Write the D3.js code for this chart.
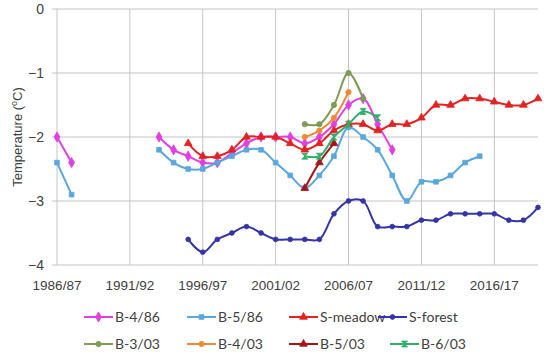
<!DOCTYPE html>
<html>
<head>
<meta charset="utf-8">
<script src="https://cdn.jsdelivr.net/npm/d3@7"></script>
<style>
  body { margin: 0; background: #fff; }
  svg text { font-family: "Liberation Sans", Arial, sans-serif; fill: #404040; }
  svg .legend text { font-family: Lato, "Liberation Sans", sans-serif; }
</style>
</head>
<body>
<svg id="chart" width="550" height="358"></svg>
<script>
// categories (winter seasons)
const years = ['1986/87','1987/88','1988/89','1989/90','1990/91','1991/92','1992/93','1993/94',
  '1994/95','1995/96','1996/97','1997/98','1998/99','1999/00','2000/01','2001/02','2002/03',
  '2003/04','2004/05','2005/06','2006/07','2007/08','2008/09','2009/10','2010/11','2011/12',
  '2012/13','2013/14','2014/15','2015/16','2016/17','2017/18','2018/19','2019/20'];
const tickYears = ['1986/87','1991/92','1996/97','2001/02','2006/07','2011/12','2016/17'];
const yTicks = [0, -1, -2, -3, -4];

const _ = null;
const b486 = [-2.0,-2.4,_,_,_,_,_,-2.0,-2.2,-2.3,-2.4,-2.4,-2.25,-2.1,-2.0,-2.0,-2.0,-2.1,-2.0,-1.8,-1.5,-1.4,-1.8,-2.2];
const b586 = [-2.4,-2.9,_,_,_,_,_,-2.2,-2.4,-2.5,-2.5,-2.4,-2.3,-2.2,-2.2,-2.4,-2.6,-2.8,-2.6,-2.3,-1.85,-2.0,-2.2,-2.6,-3.0,-2.7,-2.7,-2.6,-2.4,-2.3];
const sMeadow = [_,_,_,_,_,_,_,_,_,-2.1,-2.3,-2.3,-2.2,-2.0,-2.0,-2.0,-2.1,-2.2,-2.1,-1.9,-1.8,-1.8,-1.9,-1.8,-1.8,-1.7,-1.5,-1.5,-1.4,-1.4,-1.45,-1.5,-1.5,-1.4];
const sForest = [_,_,_,_,_,_,_,_,_,-3.6,-3.8,-3.6,-3.5,-3.4,-3.5,-3.6,-3.6,-3.6,-3.6,-3.2,-3.0,-3.0,-3.4,-3.4,-3.4,-3.3,-3.3,-3.2,-3.2,-3.2,-3.2,-3.3,-3.3,-3.1];
const b303 = [_,_,_,_,_,_,_,_,_,_,_,_,_,_,_,_,_,-1.8,-1.8,-1.5,-1.0,-1.4];
const b403 = [_,_,_,_,_,_,_,_,_,_,_,_,_,_,_,_,_,-2.0,-1.9,-1.7,-1.3];
const b503 = [_,_,_,_,_,_,_,_,_,_,_,_,_,_,_,_,_,-2.8,-2.4,-2.1];
const b603 = [_,_,_,_,_,_,_,_,_,_,_,_,_,_,_,_,_,-2.3,-2.3,-2.0,-1.8,-1.6,-1.7];

const seriesNames = ['B-4/86','B-5/86','S-meadow','S-forest','B-3/03','B-4/03','B-5/03','B-6/03'];
const seriesValues = [b486, b586, sMeadow, sForest, b303, b403, b503, b603];
const seriesColors = ['#e23fe0','#5aa6de','#e32222','#3434a8','#7f9b55','#ee8a35','#a5151a','#2fae6b'];
const seriesMarkers = ['diamond','square','triangle','dot','circle','circle','triangle','hourglass'];

const svg = d3.select('#chart');
const x = d3.scaleLinear().domain([0, years.length - 1]).range([57, 538]);
const y = d3.scaleLinear().domain([-4, 0]).range([265, 9]);

// gridlines
svg.append('g').selectAll('line.h')
  .data(yTicks)
  .enter().append('line')
  .attr('x1', 52).attr('x2', 538)
  .attr('y1', d => y(d)).attr('y2', d => y(d))
  .attr('stroke', '#c4c4c4').attr('stroke-width', 1);

svg.append('g').selectAll('line.v')
  .data(tickYears)
  .enter().append('line')
  .attr('x1', d => x(years.indexOf(d))).attr('x2', d => x(years.indexOf(d)))
  .attr('y1', y(0)).attr('y2', y(-4))
  .attr('stroke', '#c4c4c4').attr('stroke-width', 1);

// y tick labels
svg.append('g').selectAll('text')
  .data(yTicks)
  .enter().append('text')
  .attr('x', 44).attr('y', d => y(d))
  .attr('dy', '0.35em')
  .attr('text-anchor', 'end')
  .style('font-size', '14px')
  .text(d => d3.format('d')(d));

// x tick labels
svg.append('g').selectAll('text')
  .data(tickYears)
  .enter().append('text')
  .attr('x', d => x(years.indexOf(d))).attr('y', 290)
  .attr('text-anchor', 'middle')
  .style('font-size', '13.5px')
  .text(d => d);

// y axis title
const yt = svg.append('text')
  .attr('transform', 'translate(22,137) rotate(-90)')
  .attr('text-anchor', 'middle')
  .style('font-size', '13px');
yt.append('tspan').text('Temperature (');
yt.append('tspan').attr('dy', -5).style('font-size', '9px').text('o');
yt.append('tspan').attr('dy', 5).text('C)');

function markerPath(type) {
  if (type === 'diamond') return d3.symbol(d3.symbolDiamond, 30)();
  if (type === 'square') return d3.symbol(d3.symbolSquare, 22)();
  if (type === 'triangle') return d3.symbol(d3.symbolTriangle, 26)();
  if (type === 'dot') return d3.symbol(d3.symbolCircle, 18)();
  if (type === 'circle') return d3.symbol(d3.symbolCircle, 22)();
  return 'M-3,-3L3,-3L-3,3L3,3Z';
}

const line = d3.line()
  .defined(d => d.v !== null)
  .x(d => x(d.i))
  .y(d => y(d.v))
  .curve(d3.curveCatmullRom.alpha(0.5));

seriesNames.forEach((name, k) => {
  const pts = seriesValues[k].map((v, i) => ({i: i, v: v}));
  const g = svg.append('g');
  g.append('path')
    .datum(pts)
    .attr('d', line)
    .attr('fill', 'none')
    .attr('stroke', seriesColors[k])
    .attr('stroke-width', 2);
  g.selectAll('path.m')
    .data(pts.filter(d => d.v !== null))
    .enter().append('path')
    .attr('class', 'm')
    .attr('transform', d => 'translate(' + x(d.i) + ',' + y(d.v) + ')')
    .attr('d', markerPath(seriesMarkers[k]))
    .attr('fill', seriesColors[k])
    .attr('stroke', seriesColors[k])
    .attr('stroke-width', 0.8);
});

// legend
const legendX = [84, 187, 289, 378, 84, 187, 289, 390];
const legendY = [317, 317, 317, 317, 344, 344, 344, 344];
const legend = svg.append('g').attr('class', 'legend');
seriesNames.forEach((name, k) => {
  const g = legend.append('g').attr('transform', 'translate(' + legendX[k] + ',' + legendY[k] + ')');
  g.append('line').attr('x1', 0).attr('x2', 29).attr('y1', 0).attr('y2', 0)
    .attr('stroke', seriesColors[k]).attr('stroke-width', 2);
  g.append('path').attr('transform', 'translate(14.5,0)')
    .attr('d', markerPath(seriesMarkers[k]))
    .attr('fill', seriesColors[k]).attr('stroke', seriesColors[k]).attr('stroke-width', 0.8);
  g.append('text').attr('x', 31).attr('y', 0).attr('dy', '0.35em')
    .style('font-size', '14px')
    .text(name);
});
</script>
</body>
</html>
